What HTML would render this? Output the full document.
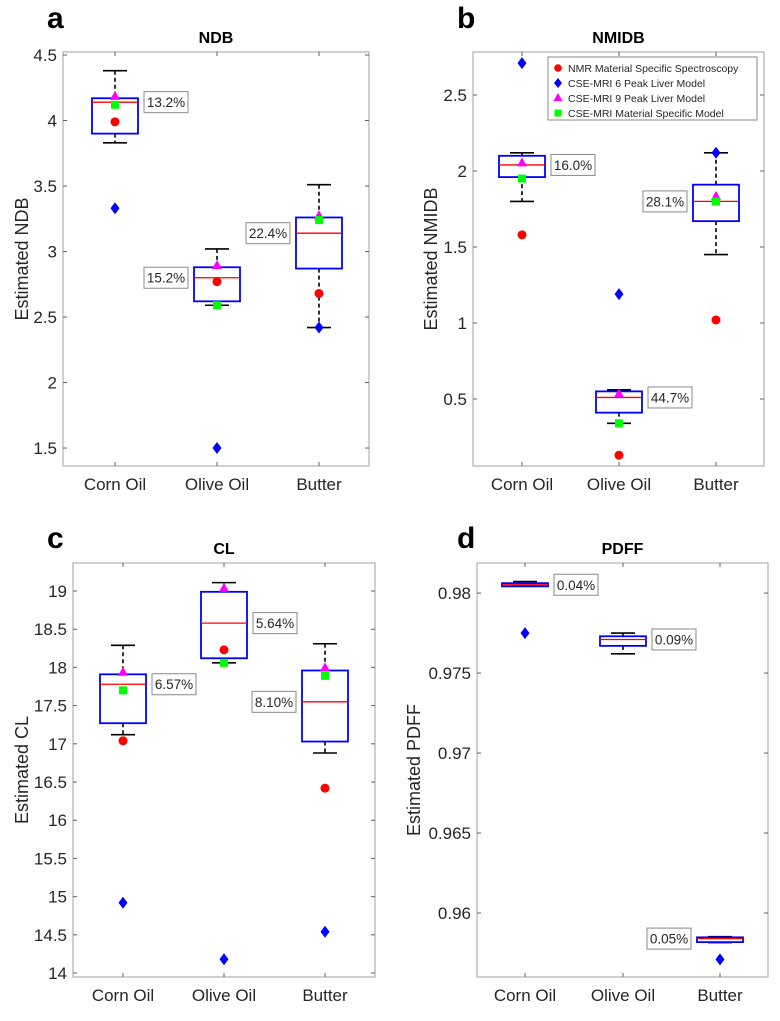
<!DOCTYPE html>
<html><head><meta charset="utf-8"><style>
html,body{margin:0;padding:0;background:#fff}
svg{display:block;font-family:"Liberation Sans",Arial,sans-serif}
</style></head><body>
<svg id="fig" width="780" height="1021" viewBox="0 0 780 1021"></svg>
<script>
const categories = ["Corn Oil","Olive Oil","Butter"];
// panel a NDB
const ndbWhiskLo=[3.83,2.59,2.42], ndbQ1=[3.90,2.62,2.87], ndbMed=[4.14,2.80,3.14], ndbQ3=[4.17,2.88,3.26], ndbWhiskHi=[4.38,3.02,3.51];
const ndbNMR=[3.99,2.77,2.68], ndbSix=[3.33,1.50,2.42], ndbNine=[4.18,2.89,3.27], ndbMat=[4.12,2.59,3.24];
const ndbLabels=["13.2%","15.2%","22.4%"], ndbLabelSide=["r","l","l"];
const ndbTicks=[1.5,2,2.5,3,3.5,4,4.5], ndbTickLabels=["1.5","2","2.5","3","3.5","4","4.5"];
// panel b NMIDB
const nmWhiskLo=[1.80,0.34,1.45], nmQ1=[1.96,0.41,1.67], nmMed=[2.04,0.51,1.80], nmQ3=[2.10,0.55,1.91], nmWhiskHi=[2.12,0.56,2.12];
const nmNMR=[1.58,0.13,1.02], nmSix=[2.71,1.19,2.12], nmNine=[2.05,0.53,1.83], nmMat=[1.95,0.34,1.80];
const nmLabels=["16.0%","44.7%","28.1%"], nmLabelSide=["r","r","l"];
const nmTicks=[0.5,1,1.5,2,2.5], nmTickLabels=["0.5","1","1.5","2","2.5"];
// panel c CL
const clWhiskLo=[17.12,18.06,16.88], clQ1=[17.27,18.12,17.03], clMed=[17.78,18.58,17.55], clQ3=[17.91,18.99,17.96], clWhiskHi=[18.29,19.11,18.31];
const clNMR=[17.04,18.23,16.42], clSix=[14.92,14.18,14.54], clNine=[17.93,19.03,17.99], clMat=[17.70,18.06,17.89];
const clLabels=["6.57%","5.64%","8.10%"], clLabelSide=["r","r","l"];
const clTicks=[14,14.5,15,15.5,16,16.5,17,17.5,18,18.5,19], clTickLabels=["14","14.5","15","15.5","16","16.5","17","17.5","18","18.5","19"];
// panel d PDFF
const pdWhiskLo=[0.98045,0.9762,0.95815], pdQ1=[0.98042,0.9767,0.95818], pdMed=[0.98052,0.9771,0.9584], pdQ3=[0.98062,0.9773,0.95848], pdWhiskHi=[0.98072,0.9775,0.95852];
const pdNMR=[null,null,null], pdSix=[0.9775,null,0.9571], pdNine=[null,null,null], pdMat=[null,null,null];
const pdLabels=["0.04%","0.09%","0.05%"], pdLabelSide=["r","r","l"];
const pdTicks=[0.96,0.965,0.97,0.975,0.98], pdTickLabels=["0.96","0.965","0.97","0.975","0.98"];

const NS="http://www.w3.org/2000/svg";
const svg=document.getElementById('fig');
function mk(tag,attrs,parent,text){const e=document.createElementNS(NS,tag);for(const k in attrs)e.setAttribute(k,attrs[k]);if(text!=null)e.textContent=text;(parent||svg).appendChild(e);return e;}

function panel(o){
  const g=mk('g',{});
  
  
  const L=o.L,R=o.R,T=o.T,B=o.B;
  const y=v=>B-(v-o.ymin)/(o.ymax-o.ymin)*(B-T);
  const x=i=>o.cx[i];
  const pl=mk('text',{x:o.letterX,y:o.letterY,'font-size':30,'font-weight':'bold',fill:'#000'},g,o.letter);
  
  
  const tt=mk('text',{x:(L+R)/2,y:T-9,'font-size':16,'font-weight':'bold','text-anchor':'middle',fill:'#000'},g,o.title);
  
  
  const ax=mk('rect',{x:L,y:T,width:R-L,height:B-T,fill:'#fff',stroke:'#a0a0a0','stroke-width':1},g);
  
  
  o.ticks.forEach((t,i)=>{
    const yy=y(t);
    mk('line',{x1:L,x2:L+4,y1:yy,y2:yy,stroke:'#606060'},g);
    mk('line',{x1:R,x2:R-4,y1:yy,y2:yy,stroke:'#606060'},g);
    const tl=mk('text',{x:L-6,y:yy+6,'font-size':17,'text-anchor':'end',fill:'#262626'},g,o.tickLabels[i]);
    
    
  });
  categories.forEach((c,i)=>{
    mk('line',{x1:x(i),x2:x(i),y1:B,y2:B-4,stroke:'#606060'},g);
    mk('line',{x1:x(i),x2:x(i),y1:T,y2:T+4,stroke:'#606060'},g);
    const xl=mk('text',{x:x(i),y:B+24,'font-size':17,'text-anchor':'middle',fill:'#262626'},g,c);
    
    
  });
  const yl=mk('text',{x:0,y:0,'font-size':18,'text-anchor':'middle',fill:'#262626',transform:`translate(${o.ylabX},${(T+B)/2}) rotate(-90)`},g,o.ylabel);
  
  
  const hw=23,cw=12;
  categories.forEach((c,i)=>{
    const cx=x(i);
    const bg=mk('g',{},g);
    
    
    mk('line',{x1:cx,x2:cx,y1:y(o.hi[i]),y2:y(o.q3[i]),stroke:'#000','stroke-width':1.6,'stroke-dasharray':'4,3'},bg);
    mk('line',{x1:cx,x2:cx,y1:y(o.q1[i]),y2:y(o.lo[i]),stroke:'#000','stroke-width':1.6,'stroke-dasharray':'4,3'},bg);
    mk('line',{x1:cx-cw,x2:cx+cw,y1:y(o.hi[i]),y2:y(o.hi[i]),stroke:'#000','stroke-width':1.6},bg);
    mk('line',{x1:cx-cw,x2:cx+cw,y1:y(o.lo[i]),y2:y(o.lo[i]),stroke:'#000','stroke-width':1.6},bg);
    mk('rect',{x:cx-hw,y:y(o.q3[i]),width:2*hw,height:Math.max(1,y(o.q1[i])-y(o.q3[i])),fill:'none',stroke:'#0000ff','stroke-width':1.8},bg);
    mk('line',{x1:cx-hw,x2:cx+hw,y1:y(o.med[i]),y2:y(o.med[i]),stroke:'#ff0000','stroke-width':1.3},bg);
    if(o.six[i]!=null){const yy=y(o.six[i]);const m=mk('polygon',{points:`${cx},${yy-6} ${cx+4.5},${yy} ${cx},${yy+6} ${cx-4.5},${yy}`,fill:'#0000ff'},bg);
      }
    if(o.nmr[i]!=null){const m=mk('circle',{cx:cx,cy:y(o.nmr[i]),r:4.5,fill:'#ff0000'},bg);
      }
    if(o.nine[i]!=null){const yy=y(o.nine[i]);const m=mk('polygon',{points:`${cx},${yy-6} ${cx+5},${yy+3} ${cx-5},${yy+3}`,fill:'#ff00ff'},bg);
      }
    if(o.mat[i]!=null){const m=mk('rect',{x:cx-4,y:y(o.mat[i])-4,width:8,height:8,fill:'#00ff00'},bg);
      }
    const lw=44,lh=21,ly=y(o.med[i])-lh/2;
    const lx=o.side[i]==='r'?cx+29:cx-29-lw;
    const lg=mk('g',{},bg);
    
    
    mk('rect',{x:lx,y:ly,width:lw,height:lh,fill:'#fff',stroke:'#8a8a8a','stroke-width':1},lg);
    mk('text',{x:lx+lw/2,y:ly+15.5,'font-size':13.5,'text-anchor':'middle',fill:'#262626'},lg,o.labels[i]);
  });
  return g;
}

panel({id:'ndb',letter:'a',letterX:47,letterY:28,title:'NDB',ylabel:'Estimated NDB',ylabX:28,L:63,R:369,T:52,B:466,ymin:1.363,ymax:4.523,cx:[115,217,319],
 ticks:ndbTicks,tickLabels:ndbTickLabels,lo:ndbWhiskLo,q1:ndbQ1,med:ndbMed,q3:ndbQ3,hi:ndbWhiskHi,nmr:ndbNMR,six:ndbSix,nine:ndbNine,mat:ndbMat,labels:ndbLabels,side:ndbLabelSide});
const pb=panel({id:'nmidb',letter:'b',letterX:457,letterY:28,title:'NMIDB',ylabel:'Estimated NMIDB',ylabX:437,L:473,R:764,T:52,B:466,ymin:0.059,ymax:2.783,cx:[522,619,716],
 ticks:nmTicks,tickLabels:nmTickLabels,lo:nmWhiskLo,q1:nmQ1,med:nmMed,q3:nmQ3,hi:nmWhiskHi,nmr:nmNMR,six:nmSix,nine:nmNine,mat:nmMat,labels:nmLabels,side:nmLabelSide});
panel({id:'cl',letter:'c',letterX:47,letterY:548,title:'CL',ylabel:'Estimated CL',ylabX:28,L:73,R:375,T:563,B:977,ymin:13.948,ymax:19.367,cx:[123,224,325],
 ticks:clTicks,tickLabels:clTickLabels,lo:clWhiskLo,q1:clQ1,med:clMed,q3:clQ3,hi:clWhiskHi,nmr:clNMR,six:clSix,nine:clNine,mat:clMat,labels:clLabels,side:clLabelSide});
panel({id:'pdff',letter:'d',letterX:457,letterY:548,title:'PDFF',ylabel:'Estimated PDFF',ylabX:420,L:477,R:768,T:563,B:977,ymin:0.9560,ymax:0.98188,cx:[525,623,720],
 ticks:pdTicks,tickLabels:pdTickLabels,lo:pdWhiskLo,q1:pdQ1,med:pdMed,q3:pdQ3,hi:pdWhiskHi,nmr:pdNMR,six:pdSix,nine:pdNine,mat:pdMat,labels:pdLabels,side:pdLabelSide});

// legend in panel b
const legendEntries=["NMR Material Specific Spectroscopy","CSE-MRI 6 Peak Liver Model","CSE-MRI 9 Peak Liver Model","CSE-MRI Material Specific Model"];
const lg=mk('g',{},pb);


mk('rect',{x:548,y:57,width:209,height:63,fill:'#fff',stroke:'#8a8a8a'},lg);
legendEntries.forEach((t,i)=>{
  const yy=68+i*15;const mx=558;
  const e=mk('g',{},lg);
  
  
  if(i===0)mk('circle',{cx:mx,cy:yy,r:3.8,fill:'#ff0000'},e);
  if(i===1)mk('polygon',{points:`${mx},${yy-5} ${mx+4},${yy} ${mx},${yy+5} ${mx-4},${yy}`,fill:'#0000ff'},e);
  if(i===2)mk('polygon',{points:`${mx},${yy-5} ${mx+4.5},${yy+3} ${mx-4.5},${yy+3}`,fill:'#ff00ff'},e);
  if(i===3)mk('rect',{x:mx-3.5,y:yy-3.5,width:7,height:7,fill:'#00ff00'},e);
  mk('text',{x:568,y:yy+4,'font-size':10.5,fill:'#262626'},e,t);
});
</script>
</body></html>
